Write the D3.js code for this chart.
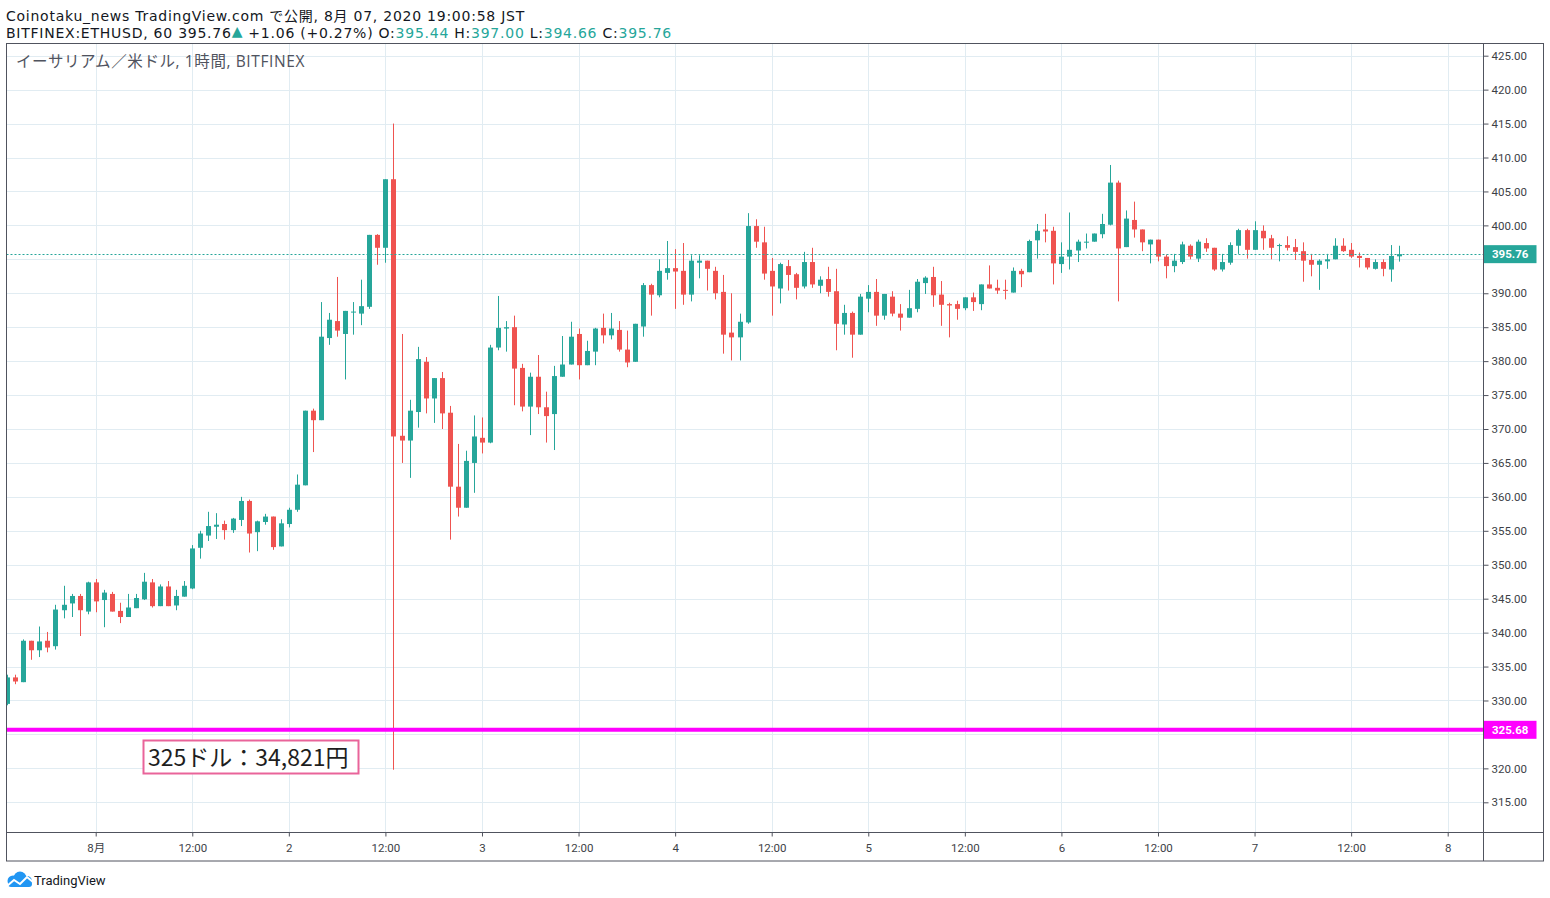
<!DOCTYPE html>
<html><head><meta charset="utf-8">
<script src="https://cdn.jsdelivr.net/npm/d3@7"></script>
<style>body{margin:0;background:#fff}svg{display:block}</style>
</head><body>
<svg id="c" width="1550" height="898"></svg>
<script>
// ---------------- data ----------------
const startTime = "2020-07-31T13:00:00Z"; // first hourly candle (JST shown as UTC clock)
const opens = [329.5,333.4,332.7,338.8,337.4,338.8,338.0,343.3,344.3,345.4,343.1,347.4,344.8,345.7,343.2,342.3,343.6,344.9,347.4,343.9,
346.8,344.0,345.3,346.5,352.5,354.3,355.6,356.0,355.1,356.6,359.4,354.8,356.3,357.1,352.7,356.0,358.1,361.7,372.7,371.3,
383.4,385.9,384.0,387.2,387.0,388.0,398.6,396.7,406.8,369.0,368.3,372.5,379.9,374.5,377.5,372.4,361.5,358.4,365.0,368.7,
368.0,382.0,384.8,385.0,379.0,373.3,377.7,373.2,372.2,377.7,379.5,384.0,379.4,381.4,384.9,383.8,384.6,381.7,379.9,385.1,
391.2,389.7,393.0,393.7,393.3,389.8,394.5,394.8,393.3,390.2,384.2,383.5,385.7,399.9,397.5,393.3,390.7,394.0,392.8,391.0,
394.6,391.1,392.1,390.3,385.4,387.1,383.9,389.2,390.2,386.7,389.5,387.0,386.4,387.7,391.5,392.4,389.8,388.4,388.4,387.8,
389.4,388.4,391.3,390.8,390.5,390.1,393.3,393.1,397.8,399.4,399.2,394.3,395.4,396.3,397.5,397.6,398.7,400.1,406.3,396.8,
400.8,399.4,397.2,397.9,395.4,394.0,394.6,397.0,395.1,397.4,396.7,393.5,394.5,397.0,399.3,396.4,399.2,398.1,397.0,397.1,
396.8,396.2,394.9,394.2,394.7,395.0,397.0,396.4,395.5,395.2,393.6,394.6,393.5,395.44];
const highs = [333.8,333.8,339.0,338.8,340.9,340.1,344.1,346.9,345.7,345.7,347.5,347.9,346.3,346.0,344.4,345.7,345.7,348.8,347.9,347.1,
347.6,346.3,347.6,352.9,355.0,357.8,357.6,356.5,356.9,360.0,359.6,356.5,357.5,357.1,356.7,358.4,363.3,372.7,373.0,388.7,
387.1,392.4,387.4,388.7,392.0,398.6,398.7,406.8,415.0,384.0,374.3,382.1,380.6,377.5,378.4,373.4,367.8,366.8,372.0,371.7,
382.4,389.6,385.9,386.7,379.6,378.3,380.9,375.5,379.3,383.7,385.8,384.8,383.0,384.9,387.0,387.1,385.9,384.5,385.5,391.5,
391.4,395.0,397.7,396.5,397.4,395.6,395.6,394.8,393.9,392.7,390.0,387.0,401.8,400.9,399.8,395.2,394.5,394.9,393.0,396.1,
396.7,392.5,393.9,393.6,388.3,387.3,389.9,391.2,392.1,389.9,390.3,388.4,390.5,392.1,392.5,393.9,391.8,388.6,388.9,389.4,
390.1,391.3,394.1,392.0,392.0,393.8,393.6,397.9,400.2,401.7,399.8,397.5,401.9,397.9,398.8,398.8,401.7,408.9,406.6,402.2,
403.5,399.4,397.9,397.9,395.7,395.8,397.6,397.2,397.9,398.1,396.7,395.8,397.5,399.5,399.5,400.6,400.0,398.6,397.3,398.4,
398.0,397.5,395.8,395.0,395.8,398.1,398.1,397.4,396.0,395.2,395.0,395.0,397.1,397.00];
const lows = [329.3,332.4,332.7,336.0,336.4,337.1,337.5,342.1,342.3,339.5,342.7,343.0,340.8,343.1,341.4,342.3,343.6,344.8,343.7,343.9,
343.9,343.3,345.3,346.4,350.9,353.5,353.8,353.7,354.7,355.7,351.8,352.0,355.9,352.2,352.7,355.5,357.8,361.7,366.6,371.3,
382.4,383.6,377.3,383.9,385.3,387.7,394.2,394.5,319.8,365.0,362.8,370.2,372.3,370.9,370.0,353.7,357.1,358.4,360.6,366.4,
367.9,381.6,381.4,373.5,372.6,369.1,372.2,368.0,366.9,377.7,379.5,377.3,379.4,379.4,382.6,383.2,381.4,379.1,379.9,383.6,
386.7,389.4,392.0,387.7,388.3,388.8,392.2,390.4,389.1,381.1,380.1,380.1,385.5,396.7,392.0,386.7,388.5,390.4,389.1,390.7,
390.8,390.0,389.5,381.6,383.9,380.5,383.9,387.2,385.2,386.1,386.6,384.5,386.4,387.2,389.9,388.0,385.2,383.5,386.1,387.5,
387.4,387.5,390.7,389.9,389.1,390.1,390.9,393.1,395.1,397.5,391.3,393.0,393.5,394.6,396.6,397.6,398.1,400.0,388.8,396.8,
398.2,396.2,394.4,394.7,392.2,393.1,394.3,395.0,394.6,396.1,393.3,393.2,394.2,395.8,395.1,396.4,396.4,395.0,394.7,396.3,
394.9,391.7,392.5,390.5,393.6,395.0,396.1,395.2,393.8,393.5,393.5,392.5,391.7,394.66];
const closes = [333.4,332.8,338.8,337.4,338.7,337.8,343.4,344.1,345.4,343.3,347.4,344.6,345.9,343.1,342.3,343.7,345.1,347.5,343.9,346.8,
343.9,345.4,346.9,352.4,354.6,355.7,355.9,355.1,356.8,359.4,354.6,356.4,357.1,352.6,356.1,358.1,361.8,372.7,371.3,383.6,
386.1,384.5,387.4,387.3,388.1,398.6,396.7,406.8,368.9,368.3,372.7,380.3,374.5,377.5,372.3,361.5,358.4,365.3,368.9,368.0,
382.0,384.9,385.0,378.9,373.3,377.7,373.2,371.9,377.8,379.5,383.6,379.4,381.5,384.8,383.8,384.8,381.7,379.8,385.5,391.2,
389.8,393.3,393.7,393.2,389.8,394.8,394.8,393.6,390.0,383.9,383.5,385.8,399.9,397.6,392.9,391.0,394.3,392.7,390.8,394.6,
391.3,392.0,390.2,385.5,387.1,383.9,389.5,390.2,386.7,389.9,387.0,386.4,387.8,391.7,392.3,389.7,388.3,388.2,387.7,389.4,
388.7,391.3,390.7,390.4,390.4,393.3,392.8,397.7,399.2,399.1,394.4,395.4,396.4,397.6,397.6,398.8,400.2,406.3,396.6,401.0,
399.4,397.5,397.9,395.4,394.0,394.8,397.2,395.4,397.6,396.6,393.5,394.6,397.1,399.3,396.4,399.3,398.1,396.7,397.1,396.7,
396.1,394.8,394.2,394.8,395.0,397.0,396.2,395.4,395.2,393.8,394.6,393.6,395.5,395.76];
const priceTicks = [315,320,325,330,335,340,345,350,355,360,365,370,375,380,385,390,395,400,405,410,415,420,425];
const timeTickLabels = ["8月","12:00","2","12:00","3","12:00","4","12:00","5","12:00","6","12:00","7","12:00","8"];
const lastPrice = 395.76;
const supportPrice = 325.68;
const annotationText = "325ドル：34,821円";
const headerLine1 = "Coinotaku_news TradingView.com で公開, 8月 07, 2020 19:00:58 JST";
const headerParts = [["BITFINEX:ETHUSD, 60 395.76",0],["▲",1],[" +1.06 (+0.27%) O:",0],["395.44",1],[" H:",0],["397.00",1],[" L:",0],["394.66",1],[" C:",0],["395.76",1]];
const chartTitle = "イーサリアム／米ドル, 1時間, BITFINEX";

// ---------------- layout ----------------
const UP = "#26a69a", DOWN = "#ef5350", GRID = "#e1ecf2", FRAME = "#50535e", TXT = "#131722";
const L = 6.5, T = 43.5, PR = 1483.5, PB = 832.5, R = 1543.5, B = 861;
const FONT = "Roboto, 'Noto Sans CJK JP', sans-serif";
const HFONT = "'DejaVu Sans', 'Noto Sans CJK JP', sans-serif";
const TFONT = "'Open Sans', 'Noto Sans CJK JP', sans-serif";

const svg = d3.select("#c");
const start = new Date(startTime);
const times = opens.map((_, i) => d3.utcHour.offset(start, i));
const x = d3.scaleUtc().domain([new Date("2020-08-01T00:00:00Z"), new Date("2020-08-08T00:00:00Z")]).range([95.7, 1447.7]);
const y = d3.scaleLinear().domain([315, 425]).range([802.3, 55.7]);
const timeTicks = d3.utcHour.every(12).range(new Date("2020-08-01T00:00:00Z"), new Date("2020-08-08T01:00:00Z"));

// stretch a text's letter spacing so that it spans a given width
function fitWidth(sel, width) {
  const node = sel.node();
  const len = node.getComputedTextLength();
  const n = node.textContent.length;
  if (len > 0 && n > 1) sel.attr("letter-spacing", ((width - len) / n).toFixed(3));
}

// grid
const grid = svg.append("g");
grid.selectAll("line.h").data(priceTicks).join("line")
  .attr("x1", L).attr("x2", PR).attr("y1", d => Math.round(y(d)) + 0.5).attr("y2", d => Math.round(y(d)) + 0.5)
  .attr("stroke", GRID);
grid.selectAll("line.v").data(timeTicks).join("line")
  .attr("y1", T).attr("y2", PB).attr("x1", d => Math.round(x(d)) + 0.5).attr("x2", d => Math.round(x(d)) + 0.5)
  .attr("stroke", GRID);

// clip
svg.append("clipPath").attr("id", "plot").append("rect").attr("x", L).attr("y", T).attr("width", PR - L).attr("height", PB - T);
const plot = svg.append("g").attr("clip-path", "url(#plot)");

// title
const title = plot.append("text").attr("x", 16).attr("y", 67).attr("font-family", TFONT).attr("font-size", 15.5).attr("fill", "#50535e").text(chartTitle);
fitWidth(title, 289);

// candles
const candles = plot.append("g").selectAll("g").data(times).join("g");
candles.append("line")
  .attr("x1", (d) => Math.round(x(d)) + 0.5).attr("x2", (d) => Math.round(x(d)) + 0.5)
  .attr("y1", (d, i) => y(highs[i])).attr("y2", (d, i) => y(lows[i]))
  .attr("stroke", (d, i) => closes[i] >= opens[i] ? UP : DOWN).attr("stroke-width", 1);
candles.append("rect")
  .attr("x", d => Math.round(x(d)) - 2).attr("width", 5)
  .attr("y", (d, i) => y(Math.max(opens[i], closes[i])))
  .attr("height", (d, i) => Math.max(1, Math.abs(y(opens[i]) - y(closes[i]))))
  .attr("fill", (d, i) => closes[i] >= opens[i] ? UP : DOWN);

// last price dotted line
plot.append("line").attr("x1", L).attr("x2", PR).attr("y1", Math.round(y(lastPrice)) + 0.5).attr("y2", Math.round(y(lastPrice)) + 0.5)
  .attr("stroke", UP).attr("stroke-dasharray", "2,2");
// support line
plot.append("line").attr("x1", L).attr("x2", PR).attr("y1", y(supportPrice)).attr("y2", y(supportPrice))
  .attr("stroke", "#ff00ff").attr("stroke-width", 4);

// annotation
const ann = svg.append("g");
ann.append("rect").attr("x", 143.5).attr("y", 740.5).attr("width", 215).attr("height", 33)
  .attr("fill", "#fff").attr("stroke", "#e9649a").attr("stroke-width", 2);
ann.append("text").attr("x", 148).attr("y", 766).attr("font-family", "'Noto Sans CJK JP', sans-serif")
  .attr("font-size", 23).attr("fill", "#1e1e1e").text(annotationText);

// axes (labels hidden behind the price boxes are left out)
const boxed = [395, 325];
const yAxis = svg.append("g").attr("transform", `translate(${PR},0)`)
  .call(d3.axisRight(y).tickValues(priceTicks).tickFormat(d => boxed.includes(d) ? "" : d3.format(".2f")(d)).tickSize(5).tickPadding(3));
yAxis.select(".domain").remove();
yAxis.selectAll("line").attr("stroke", FRAME);
yAxis.selectAll("text").attr("font-family", FONT).attr("font-size", 11.5).attr("fill", "#3d3f47");

const xAxis = svg.append("g").attr("transform", `translate(0,${PB})`)
  .call(d3.axisBottom(x).tickValues(timeTicks).tickFormat((d, i) => timeTickLabels[i]).tickSize(4).tickPadding(7));
xAxis.select(".domain").remove();
xAxis.selectAll("line").attr("stroke", FRAME);
xAxis.selectAll("text").attr("font-family", FONT).attr("font-size", 11.5).attr("fill", "#3d3f47");

// price labels
function priceLabel(v, col) {
  const yy = y(v);
  svg.append("rect").attr("x", PR).attr("y", yy - 9).attr("width", 53).attr("height", 18).attr("fill", col);
  svg.append("text").attr("x", PR + 8.5).attr("y", yy).attr("dy", "0.35em").attr("font-family", FONT)
    .attr("font-size", 11.5).attr("font-weight", "bold").attr("fill", "#fff").text(d3.format(".2f")(v));
}
priceLabel(lastPrice, UP);
priceLabel(supportPrice, "#ff00ff");

// frame
const fr = svg.append("g").attr("fill", "none").attr("stroke", FRAME).attr("stroke-width", 1);
fr.append("rect").attr("x", L).attr("y", T).attr("width", R - L).attr("height", B - T);
fr.append("line").attr("x1", PR).attr("x2", PR).attr("y1", T).attr("y2", B);
fr.append("line").attr("x1", L).attr("x2", R).attr("y1", PB).attr("y2", PB);

// header
const h1 = svg.append("text").attr("x", 6).attr("y", 20.5).attr("font-family", HFONT).attr("font-size", 14).attr("fill", TXT).text(headerLine1);
fitWidth(h1, 519);
const h2 = svg.append("text").attr("x", 6).attr("y", 37.5).attr("font-family", HFONT).attr("font-size", 14).attr("fill", TXT);
h2.selectAll("tspan").data(headerParts).join("tspan").attr("fill", d => d[1] ? UP : TXT)
  .attr("font-size", d => d[0] === "▲" ? 14 : 14).attr("dy", d => d[0] === "▲" ? -2 : 0).text(d => d[0])
  .filter((d, i) => i === 2).attr("dy", 2);
fitWidth(h2, 666);

// footer logo
const logo = svg.append("g").attr("transform", "translate(6,871)");
logo.append("circle").attr("cx", 7).attr("cy", 10).attr("r", 5.5).attr("fill", "#2196f3");
logo.append("circle").attr("cx", 14).attr("cy", 7).attr("r", 6.5).attr("fill", "#2196f3");
logo.append("circle").attr("cx", 21).attr("cy", 10).attr("r", 5).attr("fill", "#2196f3");
logo.append("rect").attr("x", 2).attr("y", 10).attr("width", 24).attr("height", 6).attr("rx", 3).attr("fill", "#2196f3");
logo.append("polyline").attr("points", "1,15 8,9 14,13 21,6 27,11").attr("fill", "none").attr("stroke", "#fff").attr("stroke-width", 2);
svg.append("text").attr("x", 34).attr("y", 885).attr("font-family", FONT).attr("font-size", 13).attr("fill", TXT).text("TradingView");
</script>
</body></html>
